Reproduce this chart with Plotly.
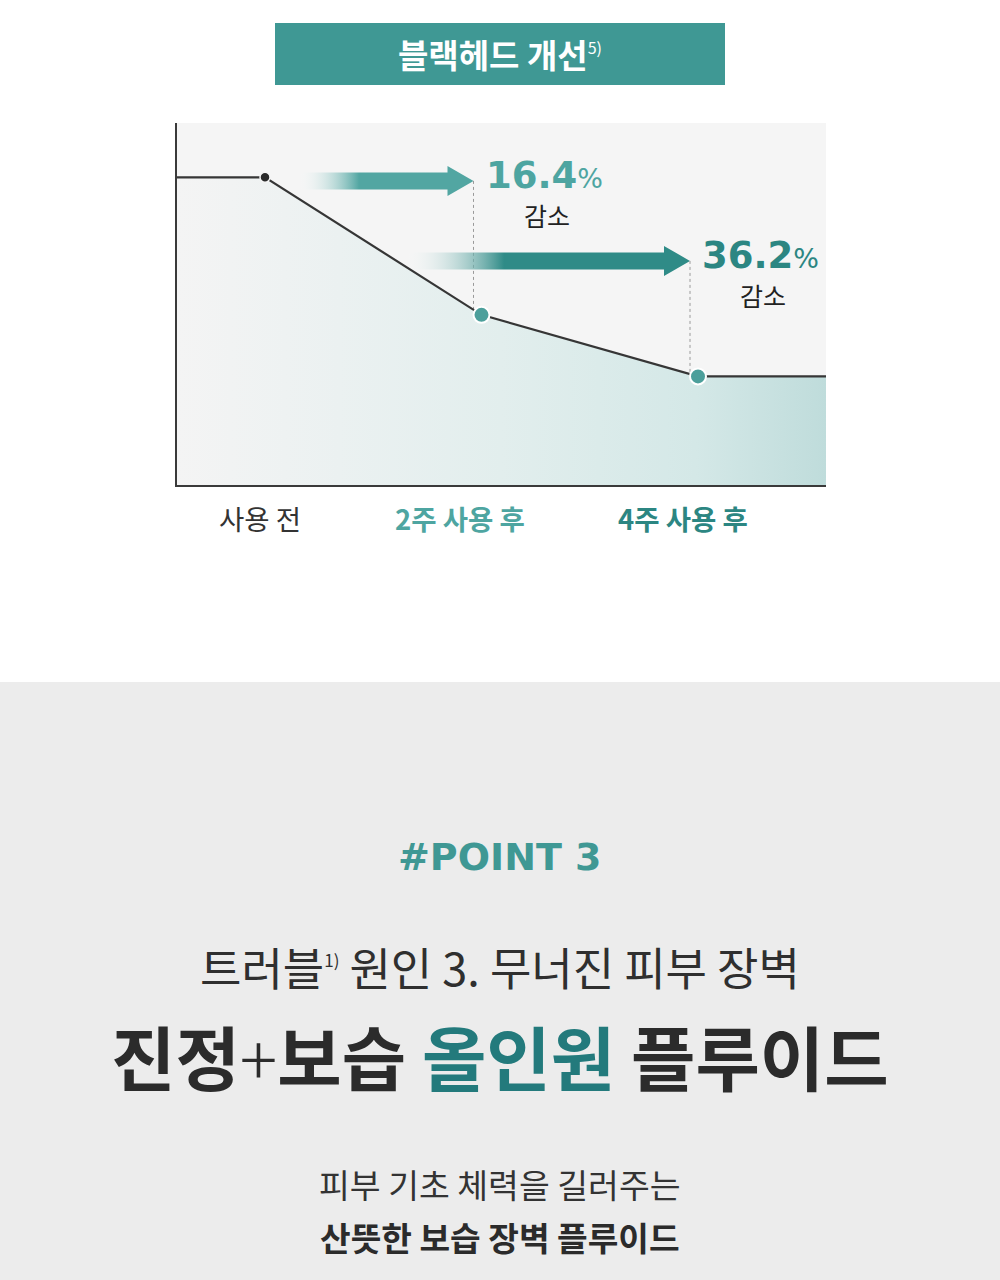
import plotly.graph_objects as go

# ---------------- data ----------------
stages = ["사용 전", "2주 사용 후", "4주 사용 후"]
weeks = [0, 2, 4]
blackhead_level = [85, 47, 30]          # relative level (axis 0-100)
reduction_pct = [16.4, 36.2]            # reduction vs. before, at week 2 and week 4
title = "블랙헤드 개선"
title_note = "5)"
reduce_word = "감소"
point_tag = "#POINT 3"
headline_1 = "트러블"
headline_1_note = "1)"
headline_1_rest = " 원인 3. 무너진 피부 장벽"
headline_2 = ["진정", "+", "보습 ", "올인원", " 플루이드"]
sub_1 = "피부 기초 체력을 길러주는"
sub_2 = "산뜻한 보습 장벽 플루이드"

# ---------------- styling ----------------
W, H = 1000, 1280
KR = "Noto Sans CJK KR"
TEAL = "#3f9894"
TEAL_DARK = "#2c8682"
TEAL_LIGHT = "#4ea5a1"

def py(px):
    return 1 - px / H

def px_x(px):
    return px / W

# axis geometry (pixel mapping)
x_left_px, x_right_px = 177, 826
y_top_px, y_bot_px = 123, 485
px_per_week = (698 - 265) / (weeks[-1] - weeks[0])
x_lo = weeks[0] - (265 - x_left_px) / px_per_week
x_hi = weeks[-1] + (x_right_px - 698) / px_per_week
y_lo, y_hi = 0, 100
px_per_y = (y_bot_px - y_top_px) / (y_hi - y_lo)

line_x = [x_lo] + weeks + [x_hi]
line_y = [blackhead_level[0]] + blackhead_level + [blackhead_level[-1]]

fig = go.Figure()

# gradient area under the line
fig.add_trace(go.Scatter(
    x=line_x, y=line_y, mode="none", fill="tozeroy",
    fillgradient=dict(type="horizontal",
                      colorscale=[[0, "#f4f4f4"], [0.25, "#ebf1f1"], [0.5, "#e2eeed"],
                                  [0.8, "#d4e8e7"], [1, "#bfdcdb"]]),
    hoverinfo="skip", showlegend=False))

# arrows (gradient)
arrow_specs = [
    dict(k=1, yc=84.0, length_px=176, color="#52a6a2"),
    dict(k=2, yc=61.9, length_px=286, color="#2f8b87"),
]
bar_half = 8.5 / px_per_y
head_half = 15 / px_per_y
head_len = 26 / px_per_week
for a in arrow_specs:
    tip = weeks[a["k"]] - 8 / px_per_week
    tail = tip - a["length_px"] / px_per_week
    hb = tip - head_len
    yc = a["yc"]
    ax = [tail, hb, hb, tip, hb, hb, tail, tail]
    ay = [yc + bar_half, yc + bar_half, yc + head_half, yc, yc - head_half,
          yc - bar_half, yc - bar_half, yc + bar_half]
    c = a["color"]
    fig.add_trace(go.Scatter(
        x=ax, y=ay, mode="none", fill="toself",
        fillgradient=dict(type="horizontal",
                          colorscale=[[0, "rgba(255,255,255,0)"], [0.35, c], [1, c]]),
        hoverinfo="skip", showlegend=False))
    # dashed guide from arrow tip down to the data point
    fig.add_trace(go.Scatter(
        x=[tip, tip], y=[yc, blackhead_level[a["k"]]], mode="lines",
        line=dict(color="#9a9a9a", width=1, dash="3px,3px"),
        hoverinfo="skip", showlegend=False))

# main line
fig.add_trace(go.Scatter(
    x=line_x, y=line_y, mode="lines",
    line=dict(color="#363636", width=2.2),
    hoverinfo="skip", showlegend=False))

# markers
fig.add_trace(go.Scatter(
    x=weeks[:1], y=blackhead_level[:1], mode="markers",
    marker=dict(color="#2a2a2a", size=10, line=dict(color="#f5f5f5", width=1.5)),
    hoverinfo="skip", showlegend=False))
fig.add_trace(go.Scatter(
    x=weeks[1:], y=blackhead_level[1:], mode="markers",
    marker=dict(color="#4c9f9b", size=16, line=dict(color="white", width=2)),
    hoverinfo="skip", showlegend=False))

annotations = []

# percentage labels
for a, pct in zip(arrow_specs, reduction_pct):
    tip = weeks[a["k"]] - 8 / px_per_week
    col = TEAL_LIGHT if a["k"] == 1 else TEAL_DARK
    annotations.append(dict(
        x=tip, y=a["yc"] + 1.6, xref="x", yref="y", xanchor="left", yanchor="middle",
        xshift=10, showarrow=False,
        text=f"<b>{pct:.1f}</b><span style='font-size:27px;font-weight:normal'>%</span>",
        font=dict(family="DejaVu Sans", size=37, color=col)))
    annotations.append(dict(
        x=tip, y=a["yc"] - 34 / px_per_y, xref="x", yref="y", xanchor="center",
        yanchor="middle", xshift=73, showarrow=False, text=reduce_word,
        font=dict(family=KR, size=25, color="#222222")))

# x labels
label_colors = ["#333333", TEAL_LIGHT, TEAL_DARK]
label_bold = [False, True, True]
label_shift = [-5, -22, -15]
for w, lab, c, b, s in zip(weeks, stages, label_colors, label_bold, label_shift):
    annotations.append(dict(
        x=w, y=py(518), xref="x", yref="paper", xanchor="center", yanchor="middle",
        xshift=s, showarrow=False, text=f"<b>{lab}</b>" if b else lab,
        font=dict(family=KR, size=27.5, color=c)))

# title box text
annotations.append(dict(
    x=0.5, y=py(54), xref="paper", yref="paper", xanchor="center", yanchor="middle",
    showarrow=False,
    text=f"<b>{title}</b><sup><span style='font-size:16px'>{title_note}</span></sup>",
    font=dict(family=KR, size=33, color="white")))

# bottom section texts
annotations.append(dict(
    x=0.5, y=py(857), xref="paper", yref="paper", xanchor="center", yanchor="middle",
    showarrow=False, text=f"<b>{point_tag}</b>",
    font=dict(family="DejaVu Sans", size=38, color=TEAL)))
annotations.append(dict(
    x=0.5, y=py(966), xref="paper", yref="paper", xanchor="center", yanchor="middle",
    showarrow=False,
    text=(f"{headline_1}<sup><span style='font-size:17px'>{headline_1_note}</span></sup>"
          f"{headline_1_rest}"),
    font=dict(family=KR, size=45, color="#2f2f2f")))
h2 = (f"<b>{headline_2[0]}</b><span style='font-weight:300'>{headline_2[1]}</span>"
      f"<b>{headline_2[2]}<span style='color:#237a7c'>{headline_2[3]}</span>{headline_2[4]}</b>")
annotations.append(dict(
    x=0.5, y=py(1055), xref="paper", yref="paper", xanchor="center", yanchor="middle",
    showarrow=False, text=h2,
    font=dict(family=KR, size=70, color="#2b2b2b")))
annotations.append(dict(
    x=0.5, y=py(1183), xref="paper", yref="paper", xanchor="center", yanchor="middle",
    showarrow=False, text=sub_1,
    font=dict(family=KR, size=33.5, color="#333333")))
annotations.append(dict(
    x=0.5, y=py(1236), xref="paper", yref="paper", xanchor="center", yanchor="middle",
    showarrow=False, text=f"<b>{sub_2}</b>",
    font=dict(family=KR, size=33.3, color="#2b2b2b")))

shapes = [
    # bottom gray section
    dict(type="rect", xref="paper", yref="paper", x0=0, x1=1, y0=0, y1=py(682),
         fillcolor="#ececec", line=dict(width=0), layer="below"),
    # title box
    dict(type="rect", xref="paper", yref="paper", x0=px_x(275), x1=px_x(725),
         y0=py(85), y1=py(23), fillcolor=TEAL, line=dict(width=0), layer="below"),
]

fig.update_layout(
    width=W, height=H, margin=dict(l=0, r=0, t=0, b=0),
    paper_bgcolor="white", plot_bgcolor="#f5f5f5",
    showlegend=False, annotations=annotations, shapes=shapes,
    xaxis=dict(domain=[px_x(x_left_px), px_x(x_right_px)], range=[x_lo, x_hi],
               showgrid=False, zeroline=False, showticklabels=False, ticks="",
               showline=True, linecolor="#3a3a3a", linewidth=2, fixedrange=True),
    yaxis=dict(domain=[py(y_bot_px), py(y_top_px)], range=[y_lo, y_hi],
               showgrid=False, zeroline=False, showticklabels=False, ticks="",
               showline=True, linecolor="#3a3a3a", linewidth=2, fixedrange=True),
)

fig.write_html("out.html")
